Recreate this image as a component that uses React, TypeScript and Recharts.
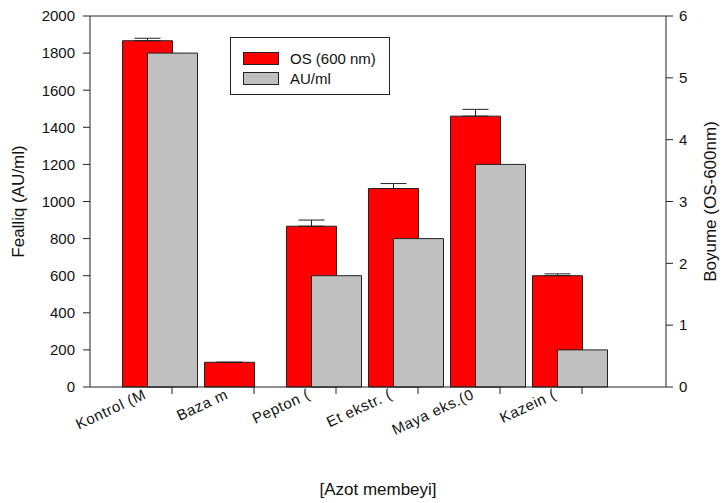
import React from "react";
import {
  BarChart,
  Bar,
  XAxis,
  YAxis,
  ErrorBar,
  Legend,
  ReferenceLine,
} from "recharts";

// values
const categories = ["Kontrol (M", "Baza m", "Pepton (", "Et ekstr. (", "Maya eks.(0", "Kazein ("];
const osValues = [5.6, 0.4, 2.6, 3.21, 4.38, 1.8];
const osErrors = [0.04, 0, 0.1, 0.08, 0.11, 0.03];
const auValues = [1800, 0, 600, 800, 1200, 200];
const leftTicks = [0, 200, 400, 600, 800, 1000, 1200, 1400, 1600, 1800, 2000];
const rightTicks = [0, 1, 2, 3, 4, 5, 6];

const chartData = categories.map((name, i) => ({
  name,
  os: osValues[i],
  osErr: [0, osErrors[i]],
  au: auValues[i],
}));

const FONT = "'Liberation Sans', Arial, sans-serif";
const AXIS = "#222";

// category labels sit a bit left of their tick, slanted
const CatTick = (props: any) => {
  const { x, y, payload } = props;
  const tx = x - 25;
  const ty = y + 2;
  return (
    <text
      x={tx}
      y={ty}
      transform={`rotate(-25, ${tx}, ${ty})`}
      textAnchor="end"
      fontFamily={FONT}
      fontSize={15}
      letterSpacing={0.6}
      fill="#111"
    >
      {payload.value}
    </text>
  );
};

const LeftLabel = (props: any) => {
  const { viewBox } = props;
  const x = viewBox.x + 18;
  const y = viewBox.y + viewBox.height / 2;
  return (
    <text x={x} y={y} transform={`rotate(-90, ${x}, ${y})`} textAnchor="middle" dominantBaseline="central" fontFamily={FONT} fontSize={17} fill="#111">
      Fealliq (AU/ml)
    </text>
  );
};

const RightLabel = (props: any) => {
  const { viewBox } = props;
  const x = viewBox.x + 44;
  const y = viewBox.y + viewBox.height / 2;
  return (
    <text x={x} y={y} transform={`rotate(-90, ${x}, ${y})`} textAnchor="middle" dominantBaseline="central" fontFamily={FONT} fontSize={17} fill="#111">
      Boyume (OS-600nm)
    </text>
  );
};

const BottomLabel = (props: any) => {
  const { viewBox } = props;
  return (
    <text x={viewBox.x + viewBox.width / 2} y={viewBox.y + 108} textAnchor="middle" fontFamily={FONT} fontSize={17} fill="#111">
      [Azot membeyi]
    </text>
  );
};

const LegendBox = () => (
  <div
    style={{
      border: "1px solid #222",
      width: 160,
      height: 58,
      boxSizing: "border-box",
      fontFamily: FONT,
      fontSize: 15,
      color: "#111",
      padding: "10px 0 0 12px",
      background: "#fff",
    }}
  >
    {[
      { label: "OS (600 nm)", color: "#ff0000" },
      { label: "AU/ml", color: "#c0c0c0" },
    ].map((it) => (
      <div key={it.label} style={{ display: "flex", alignItems: "center", height: 20 }}>
        <span style={{ display: "inline-block", width: 34, height: 11, background: it.color, border: "1px solid #222", marginRight: 11 }} />
        <span>{it.label}</span>
      </div>
    ))}
  </div>
);

export default function App() {
  return (
    <div style={{ position: "absolute", left: 0, top: 0, background: "#fff" }}>
      <BarChart
        width={725}
        height={503}
        data={chartData}
        margin={{ top: 16, right: 0, left: 0, bottom: 0 }}
        barSize={50}
        barGap={-25}
      >
        <XAxis
          xAxisId="labels"
          dataKey="name"
          height={116}
          padding={{ left: 41, right: 43 }}
          stroke={AXIS}
          tickSize={7}
          tick={<CatTick />}
          interval={0}
          label={<BottomLabel />}
        />
        <XAxis xAxisId="bars" dataKey="name" hide height={0} padding={{ left: 28.5, right: 55.5 }} />
        <YAxis
          yAxisId="left"
          orientation="left"
          width={90}
          domain={[0, 2000]}
          ticks={leftTicks}
          interval={0}
          stroke={AXIS}
          tickSize={7}
          tickMargin={8}
          tick={{ fontFamily: FONT, fontSize: 15, fill: "#111" }}
          label={<LeftLabel />}
        />
        <YAxis
          yAxisId="right"
          orientation="right"
          width={59}
          domain={[0, 6]}
          ticks={rightTicks}
          interval={0}
          stroke={AXIS}
          tickSize={7}
          tickMargin={6}
          tick={{ fontFamily: FONT, fontSize: 15, fill: "#111" }}
          label={<RightLabel />}
        />
        <ReferenceLine yAxisId="left" xAxisId="bars" y={2000} stroke={AXIS} />
        <Legend
          layout="vertical"
          align="center"
          verticalAlign="middle"
          content={<LegendBox />}
          wrapperStyle={{ left: 230, top: 37, width: 160, height: 58 }}
        />
        <Bar
          xAxisId="bars"
          yAxisId="right"
          dataKey="os"
          name="OS (600 nm)"
          fill="#ff0000"
          stroke="#222"
          strokeWidth={1}
          isAnimationActive={false}
        >
          <ErrorBar dataKey="osErr" direction="y" width={13} stroke="#222" strokeWidth={1} />
        </Bar>
        <Bar
          xAxisId="bars"
          yAxisId="left"
          dataKey="au"
          name="AU/ml"
          fill="#c0c0c0"
          stroke="#222"
          strokeWidth={1}
          isAnimationActive={false}
        />
      </BarChart>
    </div>
  );
}
